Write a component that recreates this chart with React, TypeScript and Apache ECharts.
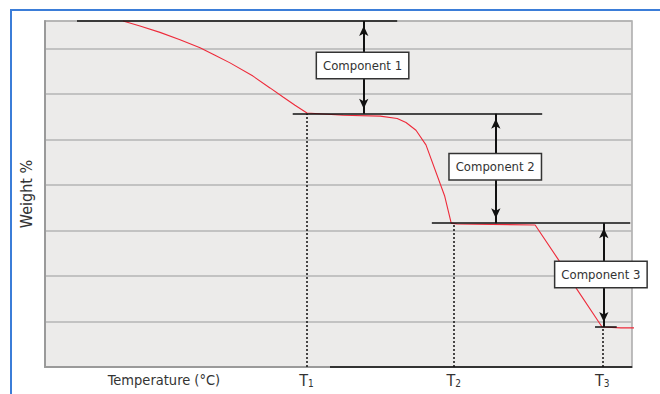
import React, { useEffect, useRef } from "react";
import * as echarts from "echarts";

// Thermogravimetric curve (arbitrary units: temperature 0-100, weight 0-7.6)
const tempX = [13.29, 16.18, 19.59, 23.0, 26.41, 28.96, 31.52, 35.43, 38.33, 40.55, 42.59, 44.63, 50.8, 57.1, 60.0, 61.5, 63.2, 64.9, 68.1, 69.2, 70.2, 83.5, 87.4, 90.6, 94.9, 98.1, 100.7];
const weight = [7.6, 7.49, 7.35, 7.19, 7.01, 6.85, 6.68, 6.39, 6.13, 5.93, 5.75, 5.58, 5.53, 5.51, 5.46, 5.37, 5.2, 4.88, 3.75, 3.16, 3.14, 3.12, 2.37, 1.71, 0.88, 0.86, 0.86];

// Plateau levels: [level, xStart, xEnd]
const levelY = [7.6, 5.56, 3.16, 0.88];
const levelStart = [5.45, 42.2, 65.9, 93.7];
const levelEnd = [60.0, 84.7, 99.7, 97.4];

// Transition temperatures
const tLabels = ["1", "2", "3"];
const tValues = [44.55, 69.62, 94.94];
const tLevels = [5.56, 3.16, 0.88];

// Component arrows
const compNames = ["Component 1", "Component 2", "Component 3"];
const compX = [54.3, 76.8, 95.2];
const compTop = [7.6, 5.56, 3.16];
const compBottom = [5.56, 3.16, 0.88];
const boxX = [54.1, 76.7, 94.7];
const boxY = [6.62, 4.4, 2.03];

const FONT = "'Liberation Sans Narrow', 'DejaVu Sans Condensed', 'Open Sans', sans-serif";

export default function App() {
  const ref = useRef<HTMLDivElement>(null);
  useEffect(() => {
    if (!ref.current) return;
    const chart = echarts.init(ref.current, undefined, { renderer: "svg" });
    const curve = tempX.map((x, i) => [x, weight[i]]);
    chart.setOption({
      animation: false,
      backgroundColor: "#ffffff",
      textStyle: { fontFamily: FONT },
      grid: {
        left: 45,
        top: 21,
        right: 28,
        bottom: 27,
        show: true,
        backgroundColor: "#ECEBEA",
        borderColor: "#A9A9A9",
        borderWidth: 1.5,
      },
      xAxis: {
        type: "value",
        min: 0,
        max: 100,
        axisLine: { show: true, lineStyle: { color: "#9A9A9A", width: 2 } },
        axisTick: { show: false },
        axisLabel: { show: false },
        splitLine: { show: false },
      },
      yAxis: {
        type: "value",
        min: 0,
        max: 7.6,
        interval: 1,
        name: "Weight %",
        nameLocation: "middle",
        nameRotate: 90,
        nameGap: 11,
        nameTextStyle: { fontSize: 16, color: "#333", fontFamily: FONT },
        axisLine: { show: true, lineStyle: { color: "#9A9A9A", width: 2 } },
        axisTick: { show: false },
        axisLabel: { show: false },
        splitLine: { show: true, lineStyle: { color: "#B5B5B5", width: 1.5 } },
      },
      graphic: [
        { type: "line", shape: { x1: 11, y1: 10, x2: 11, y2: 394 }, style: { stroke: "#3B7DD8", lineWidth: 2 } },
        { type: "line", shape: { x1: 10, y1: 10, x2: 660, y2: 10 }, style: { stroke: "#3B7DD8", lineWidth: 2 } },
        {
          type: "text",
          x: 164,
          y: 380,
          style: { text: "Temperature (°C)", fontSize: 14.5, fill: "#333", fontFamily: FONT, align: "center", verticalAlign: "middle" },
        },
      ],
      series: [
        {
          type: "line",
          data: curve,
          showSymbol: false,
          symbol: "none",
          lineStyle: { color: "#EE2A3A", width: 1.1 },
          z: 2,
          clip: false,
        },
        {
          type: "line",
          data: [],
          z: 3,
          markLine: {
            silent: true,
            symbol: "none",
            label: { show: false },
            lineStyle: { color: "#111", width: 1.5, type: "solid" },
            data: [
              ...levelY.map((y, i) => [{ coord: [levelStart[i], y] }, { coord: [levelEnd[i], y] }]),
              [{ coord: [48.55, 0] }, { coord: [100, 0] }],
            ],
          },
        },
        {
          type: "line",
          data: [],
          z: 3,
          markLine: {
            silent: true,
            symbol: "none",
            lineStyle: { color: "#111", width: 1.5, type: [2, 2] },
            label: {
              show: true,
              position: "start",
              distance: 3,
              color: "#333",
              fontFamily: FONT,
              rich: {
                a: { fontSize: 16, color: "#333", fontFamily: FONT, lineHeight: 18, verticalAlign: "bottom" },
                b: { fontSize: 10, color: "#333", fontFamily: FONT, lineHeight: 14, verticalAlign: "bottom", padding: [8, 0, 0, 0] },
              },
            },
            data: tValues.map((t, i) => [
              { coord: [t, 0], label: { formatter: `{a|T}{b|${tLabels[i]}}` } },
              { coord: [t, tLevels[i]] },
            ]),
          },
        },
        {
          type: "line",
          data: [],
          z: 4,
          markLine: {
            silent: true,
            symbol: ["arrow", "arrow"],
            symbolSize: [7, 10],
            symbolOffset: [[0, 5], [0, 5]],
            label: { show: false },
            lineStyle: { color: "#111", width: 2, type: "solid" },
            data: compX.map((x, i) => [{ coord: [x, compTop[i]] }, { coord: [x, compBottom[i]] }]),
          },
          markPoint: {
            silent: true,
            symbol: "circle",
            symbolSize: 0,
            itemStyle: { color: "transparent" },
            label: {
              show: true,
              position: "inside",
              color: "#333",
              fontSize: 13,
              fontFamily: FONT,
              backgroundColor: "#ffffff",
              borderColor: "#333",
              borderWidth: 1.5,
              width: 91,
              height: 25,
              lineHeight: 25,
              align: "center",
              verticalAlign: "middle",
            },
            data: compNames.map((n, i) => ({ coord: [boxX[i], boxY[i]], value: n, label: { formatter: n } })),
          },
        },
      ],
    });
    return () => chart.dispose();
  }, []);
  return <div ref={ref} style={{ position: "fixed", left: 0, top: 0, width: 660, height: 394 }} />;
}
